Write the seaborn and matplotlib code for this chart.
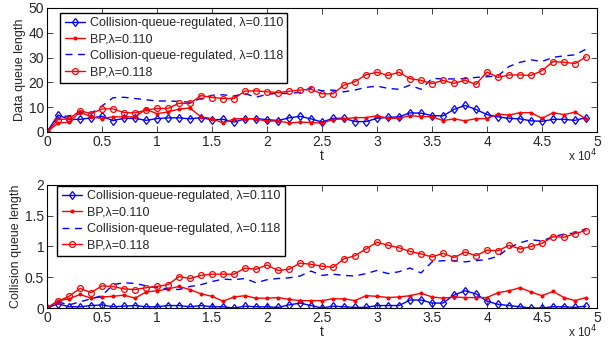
import numpy as np
import pandas as pd
import matplotlib
matplotlib.use("Agg")
import matplotlib.pyplot as plt
import seaborn as sns

# sample times, in units of 10^4
t = [0.0, 0.1, 0.2, 0.3, 0.4, 0.5, 0.6, 0.7, 0.8, 0.9,
     1.0, 1.1, 1.2, 1.3, 1.4, 1.5, 1.6, 1.7, 1.8, 1.9,
     2.0, 2.1, 2.2, 2.3, 2.4, 2.5, 2.6, 2.7, 2.8, 2.9,
     3.0, 3.1, 3.2, 3.3, 3.4, 3.5, 3.6, 3.7, 3.8, 3.9,
     4.0, 4.1, 4.2, 4.3, 4.4, 4.5, 4.6, 4.7, 4.8, 4.9]

labels = ["Collision-queue-regulated, \u03bb=0.110", "BP,\u03bb=0.110",
          "Collision-queue-regulated, \u03bb=0.118", "BP,\u03bb=0.118"]

# data queue length
data_cqr_110 = [0, 6.8, 5.1, 5.1, 5.7, 6.3, 4.6, 5.5, 5.5, 4.7,
                5.4, 5.7, 5.7, 5.3, 5.8, 4.9, 5.1, 4.0, 5.3, 5.4,
                5.0, 4.6, 5.7, 6.3, 5.3, 4.0, 5.5, 5.5, 4.2, 4.2,
                5.5, 5.9, 6.1, 7.7, 7.6, 6.6, 6.5, 9.1, 10.7, 9.1,
                7.0, 6.1, 5.5, 5.3, 4.5, 4.3, 5.1, 5.1, 4.7, 5.8]
data_bp_110 = [0, 3.6, 3.9, 8.1, 6.1, 5.4, 6.1, 6.1, 6.1, 9.1,
               7.4, 8.1, 9.2, 9.7, 6.1, 5.4, 3.6, 5.3, 5.4, 5.3,
               4.3, 4.5, 3.6, 4.0, 3.8, 3.6, 5.0, 5.3, 5.8, 5.8,
               6.6, 5.5, 5.5, 6.6, 6.2, 6.2, 4.6, 5.3, 4.5, 5.4,
               5.4, 7.2, 6.8, 7.8, 7.8, 5.5, 7.8, 7.0, 8.0, 5.3]
data_cqr_118 = [0, 6.0, 6.5, 7.5, 7.5, 10.5, 13.8, 14.0, 13.5, 13.0,
                12.5, 12.5, 12.3, 12.0, 13.5, 14.8, 15.0, 14.5, 15.5, 14.0,
                15.2, 15.6, 15.5, 16.0, 17.8, 16.6, 16.9, 16.2, 16.9, 18.0,
                18.5, 17.6, 17.2, 18.9, 17.2, 21.6, 21.4, 21.4, 21.5, 22.0,
                22.3, 22.6, 26.4, 28.1, 29.1, 28.4, 30.1, 30.7, 31.1, 33.4]
data_bp_118 = [0, 5.0, 5.3, 8.6, 7.4, 9.3, 9.3, 7.8, 7.7, 8.8,
               9.5, 9.5, 11.6, 11.5, 14.7, 13.9, 13.5, 13.5, 16.5, 16.6,
               16.2, 15.9, 16.4, 16.9, 17.2, 15.4, 15.4, 18.9, 20.3, 23.1,
               24.1, 22.8, 24.1, 21.5, 20.8, 19.5, 20.8, 19.6, 20.9, 19.2,
               24.2, 22.0, 23.0, 23.0, 22.8, 24.7, 28.4, 28.1, 27.6, 30.3]

# collision queue length
coll_cqr_110 = [0, 0.07, 0.02, 0.02, 0.04, 0.05, 0.02, 0.03, 0.04, 0.02,
                0.02, 0.04, 0.04, 0.02, 0.04, 0.02, 0.02, 0.0, 0.03, 0.02,
                0.02, 0.01, 0.05, 0.08, 0.04, 0.0, 0.03, 0.02, 0.01, 0.01,
                0.04, 0.04, 0.04, 0.13, 0.13, 0.08, 0.08, 0.21, 0.28, 0.23,
                0.11, 0.06, 0.04, 0.02, 0.0, 0.0, 0.02, 0.02, 0.01, 0.03]
coll_bp_110 = [0, 0.12, 0.15, 0.22, 0.16, 0.18, 0.19, 0.21, 0.16, 0.26,
               0.28, 0.31, 0.35, 0.30, 0.23, 0.19, 0.11, 0.18, 0.20, 0.16,
               0.16, 0.17, 0.14, 0.12, 0.12, 0.12, 0.15, 0.15, 0.12, 0.20,
               0.19, 0.17, 0.18, 0.20, 0.24, 0.18, 0.16, 0.18, 0.17, 0.17,
               0.17, 0.25, 0.28, 0.33, 0.26, 0.20, 0.27, 0.17, 0.12, 0.17]
coll_cqr_118 = [0, 0.10, 0.05, 0.10, 0.15, 0.20, 0.38, 0.41, 0.40, 0.36,
                0.33, 0.31, 0.30, 0.35, 0.38, 0.43, 0.47, 0.46, 0.48, 0.41,
                0.46, 0.48, 0.49, 0.52, 0.60, 0.53, 0.55, 0.53, 0.52, 0.56,
                0.61, 0.56, 0.59, 0.65, 0.57, 0.75, 0.77, 0.77, 0.75, 0.77,
                0.79, 0.84, 0.98, 1.06, 1.11, 1.09, 1.16, 1.20, 1.22, 1.29]
coll_bp_118 = [0, 0.11, 0.19, 0.32, 0.25, 0.36, 0.35, 0.31, 0.30, 0.33,
               0.35, 0.38, 0.51, 0.48, 0.53, 0.55, 0.55, 0.55, 0.65, 0.63,
               0.70, 0.61, 0.63, 0.73, 0.71, 0.68, 0.66, 0.80, 0.85, 0.96,
               1.07, 1.02, 0.98, 0.92, 0.88, 0.83, 0.89, 0.82, 0.91, 0.85,
               0.94, 0.93, 1.02, 0.96, 1.00, 1.05, 1.16, 1.15, 1.21, 1.26]

sns.set_style("ticks")
plt.rcParams['font.family'] = ['Liberation Sans', 'DejaVu Sans']
plt.rcParams['font.size'] = 9

# seaborn puts white edges on markers by default, so give mec explicitly
styles = [dict(color='b', linestyle='-', marker='d', mfc='none', mec='b', ms=4.5, mew=0.9),
          dict(color='r', linestyle='-', marker='.', mfc='r', mec='r', ms=4, mew=0.9),
          dict(color='b', linestyle=(0, (5, 4)), marker=''),
          dict(color='r', linestyle='-', marker='o', mfc='none', mec='r', ms=4.2, mew=0.9)]

fig = plt.figure(figsize=(6.12, 3.4), dpi=100)
ax1 = fig.add_axes([0.0768, 0.6118, 0.8987, 0.3647])
ax2 = fig.add_axes([0.0768, 0.0941, 0.8987, 0.3618])

panels = [(ax1, [data_cqr_110, data_bp_110, data_cqr_118, data_bp_118],
           "Data queue length", [0, 50], [0, 10, 20, 30, 40, 50], (0.024, 0.962)),
          (ax2, [coll_cqr_110, coll_bp_110, coll_cqr_118, coll_bp_118],
           "Collision queue length", [0, 2], [0, 0.5, 1, 1.5, 2], (0.019, 0.992))]

for ax, series, ylab, ylim, yticks, anchor in panels:
    for vals, lab, st in zip(series, labels, styles):
        sns.lineplot(x=t, y=vals, ax=ax, label=lab, lw=1, **st)
    ax.set_xlim(0, 5)
    ax.set_ylim(*ylim)
    ax.set_yticks(yticks)
    ax.set_yticklabels([f"{v:g}" for v in yticks])
    ax.set_xticks([0, 0.5, 1, 1.5, 2, 2.5, 3, 3.5, 4, 4.5, 5])
    ax.set_xticklabels(["0", "0.5", "1", "1.5", "2", "2.5", "3", "3.5", "4", "4.5", "5"])
    ax.tick_params(direction='in', top=True, right=True, length=4, width=0.6,
                   labelsize=10, pad=2)
    for sp in ax.spines.values():
        sp.set_visible(True)
        sp.set_linewidth(0.8)
        sp.set_color('k')
    ax.set_xlabel("t", labelpad=0, fontsize=10)
    ax.set_ylabel(ylab, labelpad=2, fontsize=9)
    ax.text(1.0, -0.125, r"x 10$^4$", transform=ax.transAxes, ha='right', va='top', fontsize=8.5)
    leg = ax.legend(loc='upper left', bbox_to_anchor=anchor, borderaxespad=0,
                    fancybox=False, framealpha=1, edgecolor='k', fontsize=9,
                    handlelength=1.6, handletextpad=0.4, numpoints=1,
                    borderpad=0.35, labelspacing=0.35)
    leg.get_frame().set_linewidth(1.0)

fig.savefig("out.png", dpi=100)
